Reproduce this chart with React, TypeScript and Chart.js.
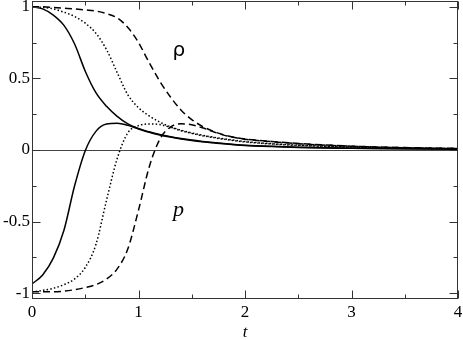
import React, { useEffect, useRef } from "react";
import { Chart, registerables } from "chart.js";

Chart.register(...registerables);

// time grid
const T = [0, 0.1, 0.2, 0.3, 0.4, 0.5, 0.6, 0.7, 0.8, 0.9, 1.0, 1.1, 1.2, 1.3, 1.4, 1.5, 1.6, 1.7, 1.8, 1.9, 2.0, 2.25, 2.5, 3.0, 3.5, 4.0];

// rho curves
const rhoSolid = [1.0, 0.985, 0.942, 0.87, 0.74, 0.55, 0.4, 0.305, 0.235, 0.182, 0.15, 0.127, 0.108, 0.093, 0.08, 0.069, 0.06, 0.052, 0.045, 0.039, 0.034, 0.026, 0.02, 0.013, 0.009, 0.007];
const rhoDotted = [1.0, 0.995, 0.985, 0.962, 0.932, 0.885, 0.815, 0.7, 0.54, 0.385, 0.295, 0.238, 0.195, 0.162, 0.138, 0.119, 0.103, 0.09, 0.078, 0.068, 0.059, 0.044, 0.034, 0.021, 0.014, 0.009];
const rhoDashed = [1.0, 1.0, 0.995, 0.99, 0.985, 0.978, 0.97, 0.952, 0.922, 0.855, 0.75, 0.61, 0.48, 0.37, 0.278, 0.212, 0.165, 0.131, 0.106, 0.089, 0.077, 0.06, 0.046, 0.027, 0.017, 0.011];

// p curves
const pSolid = [-0.935, -0.872, -0.755, -0.56, -0.25, -0.005, 0.13, 0.181, 0.186, 0.172, 0.147, 0.124, 0.105, 0.09, 0.077, 0.066, 0.057, 0.05, 0.043, 0.037, 0.032, 0.024, 0.018, 0.012, 0.008, 0.006];
const pDotted = [-0.99, -0.98, -0.965, -0.94, -0.9, -0.82, -0.66, -0.35, -0.06, 0.12, 0.17, 0.182, 0.178, 0.158, 0.135, 0.116, 0.1, 0.087, 0.075, 0.065, 0.056, 0.042, 0.032, 0.02, 0.013, 0.008];
const pDashed = [-0.99, -0.99, -0.99, -0.985, -0.975, -0.96, -0.94, -0.9, -0.83, -0.69, -0.42, -0.12, 0.075, 0.16, 0.183, 0.176, 0.155, 0.128, 0.104, 0.087, 0.075, 0.058, 0.044, 0.026, 0.016, 0.01];

// ticks
const X_TICKS = [0, 1, 2, 3, 4];
const X_MINOR = [0.5, 1.5, 2.5, 3.5];
const Y_TICKS = [-1, -0.5, 0, 0.5, 1];
const Y_TICK_LABELS = ["-1", "-0.5", "0", "0.5", "1"];
const Y_MINOR = [-0.75, -0.25, 0.25, 0.75];

const SERIF = "'Liberation Serif'";

// in-plot labels (data coordinates)
const LABELS = [
  { text: "ρ", t: 1.38, v: 0.655, font: "20px 'DejaVu Sans'" },
  { text: "p", t: 1.375, v: -0.463, font: "italic 22px 'Liberation Serif'" },
];

const pts = (ys: number[]) => ys.map((y, i) => ({ x: T[i], y }));

const framePlugin = {
  id: "frame",
  beforeDatasetsDraw(chart: any) {
    const { ctx, chartArea, scales } = chart;
    const y0 = Math.round(scales.y.getPixelForValue(0)) + 0.5;
    ctx.save();
    ctx.strokeStyle = "#444";
    ctx.lineWidth = 1;
    ctx.beginPath();
    ctx.moveTo(chartArea.left, y0);
    ctx.lineTo(chartArea.right, y0);
    ctx.stroke();
    ctx.restore();
  },
  afterDraw(chart: any) {
    const { ctx, chartArea, scales } = chart;
    const { left, right, top, bottom } = chartArea;
    const L = Math.round(left) + 0.5;
    const R = Math.round(right) - 0.5;
    const Tp = Math.round(top) + 0.5;
    const B = Math.round(bottom) - 0.5;
    ctx.save();
    ctx.strokeStyle = "#333";
    ctx.lineWidth = 1;
    ctx.strokeRect(L, Tp, R - L, B - Tp);
    const major = 8;
    const minor = 4;
    ctx.beginPath();
    const xt = (v: number, len: number) => {
      const px = Math.round(scales.x.getPixelForValue(v)) + 0.5;
      ctx.moveTo(px, B);
      ctx.lineTo(px, B - len);
      ctx.moveTo(px, Tp);
      ctx.lineTo(px, Tp + len);
    };
    const yt = (v: number, len: number) => {
      const py = Math.round(scales.y.getPixelForValue(v)) + 0.5;
      ctx.moveTo(L, py);
      ctx.lineTo(L + len, py);
      ctx.moveTo(R, py);
      ctx.lineTo(R - len, py);
    };
    X_TICKS.forEach((v) => xt(v, major));
    X_MINOR.forEach((v) => xt(v, minor));
    Y_TICKS.forEach((v) => yt(v, major));
    Y_MINOR.forEach((v) => yt(v, minor));
    ctx.stroke();

    ctx.fillStyle = "#000";
    ctx.textAlign = "center";
    ctx.textBaseline = "alphabetic";
    LABELS.forEach((l) => {
      ctx.font = l.font;
      ctx.fillText(l.text, scales.x.getPixelForValue(l.t), scales.y.getPixelForValue(l.v));
    });
    ctx.restore();
  },
};

export default function App() {
  const ref = useRef<HTMLCanvasElement>(null);
  useEffect(() => {
    if (!ref.current) return;
    const base = { borderColor: "#000", borderWidth: 1.5, pointRadius: 0, fill: false, cubicInterpolationMode: "monotone" as const };
    const dotted = [1.5, 2.2];
    const dashed = [7, 4];
    const chart = new Chart(ref.current, {
      type: "line",
      data: {
        datasets: [
          { ...base, label: "rho solid", data: pts(rhoSolid) },
          { ...base, label: "rho dotted", data: pts(rhoDotted), borderDash: dotted },
          { ...base, label: "rho dashed", data: pts(rhoDashed), borderDash: dashed },
          { ...base, label: "p solid", data: pts(pSolid) },
          { ...base, label: "p dotted", data: pts(pDotted), borderDash: dotted },
          { ...base, label: "p dashed", data: pts(pDashed), borderDash: dashed },
        ],
      },
      options: {
        animation: false,
        responsive: false,
        events: [],
        layout: { padding: { top: 1, right: 5, left: 0, bottom: 0 } },
        plugins: { legend: { display: false }, tooltip: { enabled: false } },
        scales: {
          x: {
            type: "linear",
            min: 0,
            max: 4,
            grid: { display: false, drawTicks: false },
            border: { display: false },
            ticks: {
              color: "#000",
              padding: 3,
              maxRotation: 0,
              autoSkip: false,
              font: { family: SERIF, size: 17 },
              callback: (v: any) => String(v),
            },
            title: {
              display: true,
              text: "t",
              color: "#000",
              font: { family: SERIF, size: 17, style: "italic" },
              padding: { top: 0, bottom: -3 },
            },
            afterBuildTicks: (s: any) => {
              s.ticks = X_TICKS.map((v) => ({ value: v }));
            },
            afterFit: (s: any) => {
              s.height = 41;
              s.paddingLeft = 0;
              s.paddingRight = 0;
            },
          },
          y: {
            type: "linear",
            min: -1.04,
            max: 1.04,
            grid: { display: false, drawTicks: false },
            border: { display: false },
            ticks: {
              color: "#000",
              padding: 2,
              autoSkip: false,
              font: { family: SERIF, size: 17 },
              callback: (v: any) => {
                const i = Y_TICKS.indexOf(Number(v));
                return i >= 0 ? Y_TICK_LABELS[i] : "";
              },
            },
            afterBuildTicks: (s: any) => {
              s.ticks = Y_TICKS.map((v) => ({ value: v }));
            },
            afterFit: (s: any) => {
              s.width = 32;
              s.paddingTop = 0;
              s.paddingBottom = 0;
            },
          },
        },
      },
      plugins: [framePlugin],
    });
    return () => chart.destroy();
  }, []);
  return (
    <div style={{ position: "fixed", left: 0, top: 0, width: 463, height: 340, background: "#fff" }}>
      <canvas ref={ref} width={463} height={340} style={{ display: "block" }} />
    </div>
  );
}
